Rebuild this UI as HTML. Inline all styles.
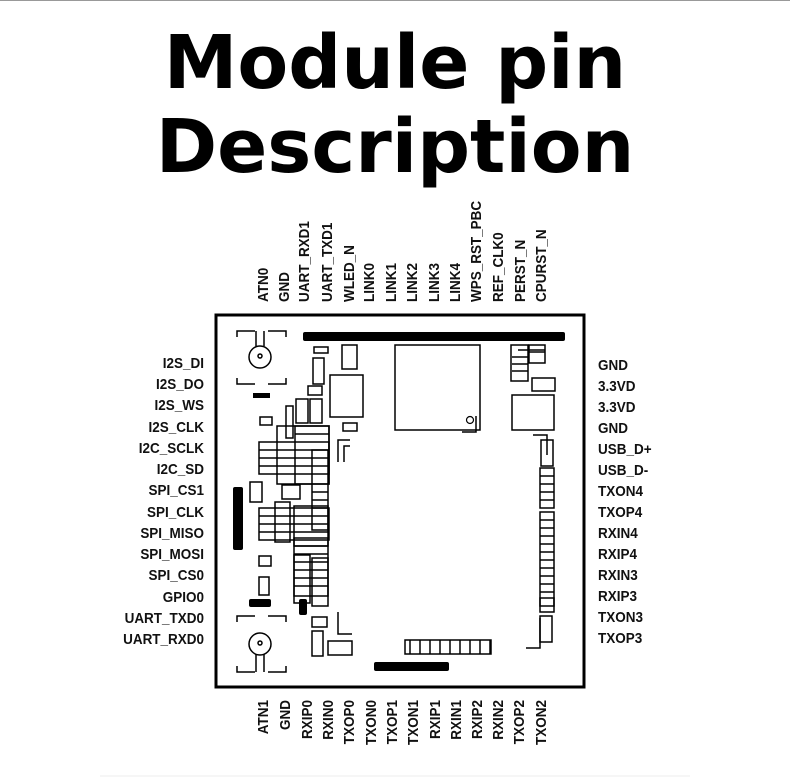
<!DOCTYPE html>
<html><head><meta charset="utf-8"><style>
html,body{margin:0;padding:0;background:#fff;}
svg{display:block}
</style></head><body>
<svg width="790" height="780" viewBox="0 0 790 780" xmlns="http://www.w3.org/2000/svg" font-family="Liberation Sans, sans-serif">
<line x1="0" y1="0.5" x2="790" y2="0.5" stroke="#999" stroke-width="1"/>
<line x1="100" y1="776" x2="690" y2="776" stroke="#eee" stroke-width="1"/>
<text x="395" y="88" text-anchor="middle" font-size="74" font-weight="bold" font-family="DejaVu Sans, sans-serif" fill="#000">Module pin</text>
<text x="395" y="172" text-anchor="middle" font-size="74" font-weight="bold" font-family="DejaVu Sans, sans-serif" fill="#000">Description</text>

<g font-size="15" font-weight="bold" fill="#111">
<g>
<text transform="translate(268,302) rotate(-90) scale(0.9,1)">ATN0</text>
<text transform="translate(289,302) rotate(-90) scale(0.9,1)">GND</text>
<text transform="translate(309,302) rotate(-90) scale(0.9,1)">UART_RXD1</text>
<text transform="translate(332,302) rotate(-90) scale(0.9,1)">UART_TXD1</text>
<text transform="translate(354,302) rotate(-90) scale(0.9,1)">WLED_N</text>
<text transform="translate(374,302) rotate(-90) scale(0.9,1)">LINK0</text>
<text transform="translate(396,302) rotate(-90) scale(0.9,1)">LINK1</text>
<text transform="translate(417,302) rotate(-90) scale(0.9,1)">LINK2</text>
<text transform="translate(439,302) rotate(-90) scale(0.9,1)">LINK3</text>
<text transform="translate(460,302) rotate(-90) scale(0.9,1)">LINK4</text>
<text transform="translate(481,302) rotate(-90) scale(0.9,1)">WPS_RST_PBC</text>
<text transform="translate(503,302) rotate(-90) scale(0.9,1)">REF_CLK0</text>
<text transform="translate(525,302) rotate(-90) scale(0.9,1)">PERST_N</text>
<text transform="translate(546,302) rotate(-90) scale(0.9,1)">CPURST_N</text>
</g>
<g text-anchor="end">
<text transform="translate(268,700) rotate(-90) scale(0.9,1)">ATN1</text>
<text transform="translate(290,700) rotate(-90) scale(0.9,1)">GND</text>
<text transform="translate(312,700) rotate(-90) scale(0.9,1)">RXIP0</text>
<text transform="translate(333,700) rotate(-90) scale(0.9,1)">RXIN0</text>
<text transform="translate(354,700) rotate(-90) scale(0.9,1)">TXOP0</text>
<text transform="translate(376,700) rotate(-90) scale(0.9,1)">TXON0</text>
<text transform="translate(397,700) rotate(-90) scale(0.9,1)">TXOP1</text>
<text transform="translate(418,700) rotate(-90) scale(0.9,1)">TXON1</text>
<text transform="translate(440,700) rotate(-90) scale(0.9,1)">RXIP1</text>
<text transform="translate(461,700) rotate(-90) scale(0.9,1)">RXIN1</text>
<text transform="translate(482,700) rotate(-90) scale(0.9,1)">RXIP2</text>
<text transform="translate(503,700) rotate(-90) scale(0.9,1)">RXIN2</text>
<text transform="translate(524,700) rotate(-90) scale(0.9,1)">TXOP2</text>
<text transform="translate(546,700) rotate(-90) scale(0.9,1)">TXON2</text>
</g>
<g text-anchor="end">
<text transform="translate(204,368) scale(0.9,1)">I2S_DI</text>
<text transform="translate(204,389) scale(0.9,1)">I2S_DO</text>
<text transform="translate(204,410) scale(0.9,1)">I2S_WS</text>
<text transform="translate(204,432) scale(0.9,1)">I2S_CLK</text>
<text transform="translate(204,453) scale(0.9,1)">I2C_SCLK</text>
<text transform="translate(204,474) scale(0.9,1)">I2C_SD</text>
<text transform="translate(204,495) scale(0.9,1)">SPI_CS1</text>
<text transform="translate(204,517) scale(0.9,1)">SPI_CLK</text>
<text transform="translate(204,538) scale(0.9,1)">SPI_MISO</text>
<text transform="translate(204,559) scale(0.9,1)">SPI_MOSI</text>
<text transform="translate(204,580) scale(0.9,1)">SPI_CS0</text>
<text transform="translate(204,602) scale(0.9,1)">GPIO0</text>
<text transform="translate(204,623) scale(0.9,1)">UART_TXD0</text>
<text transform="translate(204,644) scale(0.9,1)">UART_RXD0</text>
</g>
<g>
<text transform="translate(598,370) scale(0.9,1)">GND</text>
<text transform="translate(598,391) scale(0.9,1)">3.3VD</text>
<text transform="translate(598,412) scale(0.9,1)">3.3VD</text>
<text transform="translate(598,433) scale(0.9,1)">GND</text>
<text transform="translate(598,454) scale(0.9,1)">USB_D+</text>
<text transform="translate(598,475) scale(0.9,1)">USB_D-</text>
<text transform="translate(598,496) scale(0.9,1)">TXON4</text>
<text transform="translate(598,517) scale(0.9,1)">TXOP4</text>
<text transform="translate(598,538) scale(0.9,1)">RXIN4</text>
<text transform="translate(598,559) scale(0.9,1)">RXIP4</text>
<text transform="translate(598,580) scale(0.9,1)">RXIN3</text>
<text transform="translate(598,601) scale(0.9,1)">RXIP3</text>
<text transform="translate(598,622) scale(0.9,1)">TXON3</text>
<text transform="translate(598,643) scale(0.9,1)">TXOP3</text>
</g>
</g>

<!-- module -->
<rect x="216" y="315" width="368" height="372" fill="none" stroke="#000" stroke-width="3"/>
<rect x="303" y="332" width="262" height="9" rx="2" fill="#000"/>
<rect x="374" y="662" width="75" height="9" rx="2" fill="#000"/>
<rect x="233" y="487" width="10" height="63" rx="2" fill="#000"/>
<rect x="395" y="345" width="85" height="85" fill="none" stroke="#000" stroke-width="1.5"/>
<circle cx="470" cy="420" r="3.5" fill="none" stroke="#000" stroke-width="1.2"/>
<g fill="none" stroke="#000" stroke-width="1.5">
<circle cx="260" cy="357" r="11"/><circle cx="260" cy="644" r="11"/>
<circle cx="260" cy="356" r="2"/><circle cx="260" cy="643" r="2"/>
<path d="M237 337v-6h18M268 331h18v6M237 378v6h18M268 384h18v-6"/>
<path d="M237 622v-6h18M268 616h18v6M237 666v6h18M268 672h18v-6"/>
<path d="M256 331v15M264 331v15M256 654v18M264 654v18"/>
<rect x="330" y="375" width="33" height="42"/>
<rect x="314" y="347" width="14" height="6"/>
<rect x="342" y="345" width="15" height="24"/>
<rect x="313" y="358" width="11" height="26"/>
<rect x="308" y="386" width="14" height="9"/>
<rect x="296" y="399" width="12" height="24"/><rect x="310" y="399" width="12" height="24"/>
<rect x="286" y="406" width="7" height="32"/>
<rect x="343" y="423" width="14" height="8"/>
<rect x="511" y="345" width="17" height="36"/>
<rect x="529" y="345" width="16" height="18"/>
<rect x="532" y="378" width="23" height="13"/>
<rect x="512" y="395" width="42" height="35"/>
<rect x="541" y="440" width="12" height="26"/>
<rect x="540" y="468" width="14" height="40"/>
<rect x="540" y="512" width="14" height="100"/>
<rect x="540" y="598" width="14" height="8"/>
<rect x="540" y="616" width="12" height="26"/>
<rect x="312" y="617" width="15" height="10"/>
<rect x="312" y="631" width="11" height="25"/>
<rect x="328" y="641" width="24" height="14"/>
<rect x="282" y="485" width="18" height="14"/>
<rect x="250" y="482" width="12" height="20"/>
<rect x="259" y="577" width="10" height="18"/>
<path d="M338 462v-22h12M344 462v-16h6M462 432h14v-16M547 455v-20h-14M338 612v22h14M540 618v30h-14"/>
</g>
<g fill="none" stroke="#000" stroke-width="1.5">
<rect x="260" y="417" width="12" height="8"/>
<rect x="259" y="442" width="70" height="32"/>
<rect x="277" y="426" width="52" height="58"/>
<rect x="295" y="426" width="34" height="58"/>
<rect x="312" y="450" width="16" height="80"/>
<rect x="259" y="508" width="70" height="32"/>
<rect x="275" y="502" width="15" height="40"/>
<rect x="294" y="506" width="34" height="40"/>
<rect x="294" y="538" width="34" height="58"/>
<rect x="294" y="555" width="16" height="48"/>
<rect x="312" y="558" width="16" height="48"/>
<rect x="259" y="556" width="12" height="10"/>
</g>
<g stroke="#000" stroke-width="1.5">
<path d="M259 450h70M259 458h70M259 466h70M295 434h34M312 492h16M312 500h16M312 508h16M312 516h16M259 516h70M259 524h70M259 532h70M294 546h34M294 554h34M294 562h34M294 570h34M294 578h34M294 586h34"/>
<path d="M518 350h27M512 357h16M512 364h16M512 371h16M529 352h16"/>
<path d="M540 476h14M540 484h14M540 492h14M540 500h14M540 520h14M540 528h14M540 536h14M540 544h14M540 552h14M540 560h14M540 568h14M540 576h14M540 584h14M540 592h14"/>
<path d="M410 640v14M420 640v14M430 640v14M440 640v14M450 640v14M460 640v14M470 640v14M480 640v14M490 640v14"/>
</g>
<rect x="405" y="640" width="86" height="14" fill="none" stroke="#000" stroke-width="1.5"/>
<rect x="253" y="393" width="17" height="5" fill="#000"/>
<rect x="249" y="599" width="22" height="8" rx="2" fill="#000"/>
<rect x="299" y="599" width="8" height="16" rx="2" fill="#000"/>
</svg>
</body></html>
